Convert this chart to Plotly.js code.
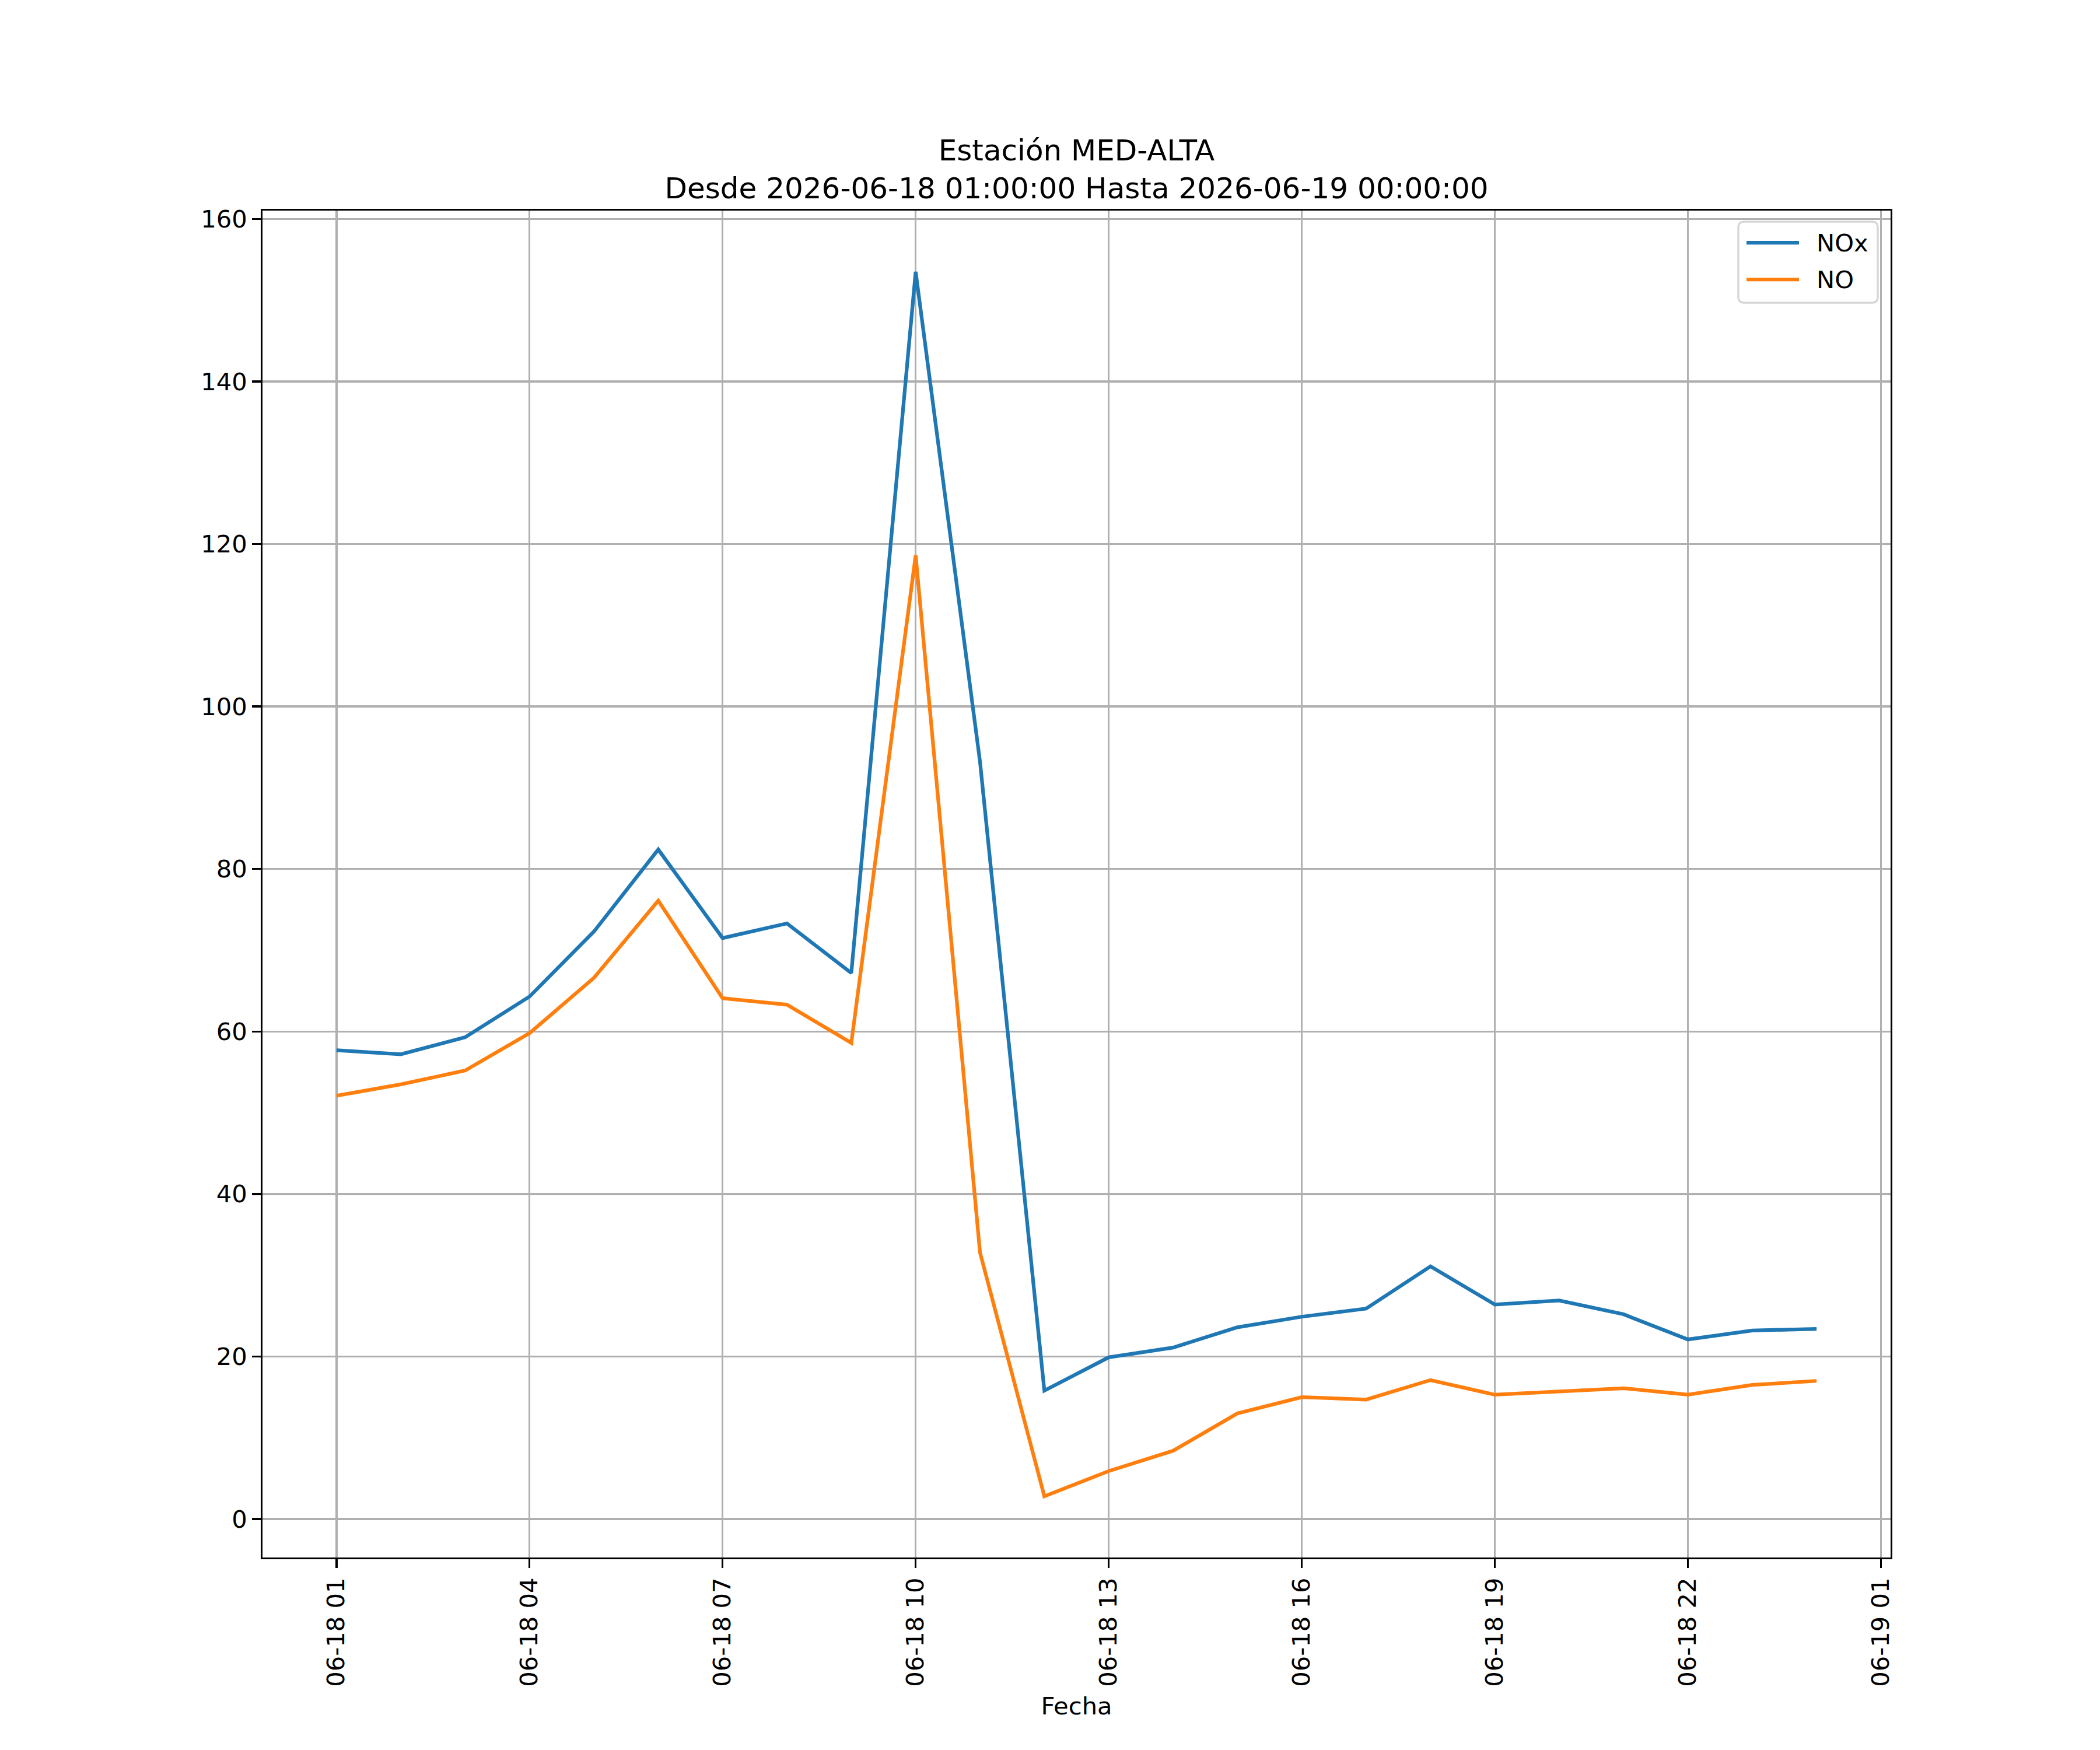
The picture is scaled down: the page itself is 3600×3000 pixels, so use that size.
<!DOCTYPE html>
<html>
<head>
<meta charset="utf-8">
<script src="https://cdn.plot.ly/plotly-3.0.1.min.js"></script>
<style>
    html, body { margin: 0; padding: 0; background: #ffffff; }
    #chart { width: 3600px; height: 3000px; }
</style>
</head>
<body>
<div id="chart"></div>
<script>
// Hourly readings, 2026-06-18 01:00 .. 2026-06-19 00:00
const times = [
    "2026-06-18 01:00", "2026-06-18 02:00", "2026-06-18 03:00", "2026-06-18 04:00",
    "2026-06-18 05:00", "2026-06-18 06:00", "2026-06-18 07:00", "2026-06-18 08:00",
    "2026-06-18 09:00", "2026-06-18 10:00", "2026-06-18 11:00", "2026-06-18 12:00",
    "2026-06-18 13:00", "2026-06-18 14:00", "2026-06-18 15:00", "2026-06-18 16:00",
    "2026-06-18 17:00", "2026-06-18 18:00", "2026-06-18 19:00", "2026-06-18 20:00",
    "2026-06-18 21:00", "2026-06-18 22:00", "2026-06-18 23:00", "2026-06-19 00:00",
];
const nox = [
    57.7, 57.2, 59.3, 64.3, 72.3, 82.4, 71.5, 73.3, 67.2, 153.5, 93.2, 15.8,
    19.9, 21.1, 23.6, 24.9, 25.9, 31.1, 26.4, 26.9, 25.2, 22.1, 23.2, 23.4,
];
const no = [
    52.1, 53.5, 55.2, 59.8, 66.6, 76.1, 64.1, 63.3, 58.6, 118.6, 32.8, 2.8,
    5.9, 8.4, 13.0, 15.0, 14.7, 17.1, 15.3, 15.7, 16.1, 15.3, 16.5, 17.0,
];
const seriesNames = ["NOx", "NO"];
const titleLines = [
    "Estación MED-ALTA",
    "Desde 2026-06-18 01:00:00 Hasta 2026-06-19 00:00:00",
];

// matplotlib-ish sizing at 300 dpi
const PT = 300 / 72;
const FONT = "DejaVu Sans, Liberation Sans, sans-serif";
const COLORS = ["#1f77b4", "#ff7f0e"];

// plot area in pixels (matplotlib default subplot params on 3600x3000)
const AX = { l: 450, r: 3241, t: 361, b: 2670 };
const px2x = (px) => (px - AX.l) / (AX.r - AX.l);
const px2y = (py) => (AX.b - py) / (AX.b - AX.t);

const traces = [nox, no].map((ys, i) => ({
    x: times,
    y: ys,
    type: "scatter",
    mode: "lines",
    name: seriesNames[i],
    line: { width: 1.5 * PT, color: COLORS[i] },
}));

// Legend drawn by hand so the frame/handles match matplotlib's look
function roundedRect(x0, y0, x1, y1, r) {
    // pixel box -> paper-space path with rounded corners
    const X = px2x, Y = px2y;
    return [
        `M${X(x0 + r)},${Y(y0)}`,
        `L${X(x1 - r)},${Y(y0)}`,
        `Q${X(x1)},${Y(y0)} ${X(x1)},${Y(y0 + r)}`,
        `L${X(x1)},${Y(y1 - r)}`,
        `Q${X(x1)},${Y(y1)} ${X(x1 - r)},${Y(y1)}`,
        `L${X(x0 + r)},${Y(y1)}`,
        `Q${X(x0)},${Y(y1)} ${X(x0)},${Y(y1 - r)}`,
        `L${X(x0)},${Y(y0 + r)}`,
        `Q${X(x0)},${Y(y0)} ${X(x0 + r)},${Y(y0)}`,
        "Z",
    ].join(" ");
}

const legendRows = [416, 479];
const shapes = [{
    type: "path",
    xref: "paper", yref: "paper",
    path: roundedRect(2980, 380, 3219, 519, 10),
    fillcolor: "rgba(255,255,255,0.8)",
    line: { color: "#d6d6d6", width: 0.8 * PT },
    layer: "above",
}];
const annotations = [];
seriesNames.forEach((name, i) => {
    shapes.push({
        type: "line",
        xref: "paper", yref: "paper",
        x0: px2x(2994), x1: px2x(3084),
        y0: px2y(legendRows[i]), y1: px2y(legendRows[i]),
        line: { color: COLORS[i], width: 1.5 * PT },
        layer: "above",
    });
    annotations.push({
        text: name,
        xref: "paper", yref: "paper",
        x: px2x(3112), y: px2y(legendRows[i]),
        xanchor: "left", yanchor: "middle",
        showarrow: false,
        font: { family: FONT, size: 10 * PT, color: "#000000" },
    });
});

const axisCommon = {
    showline: true,
    mirror: true,
    linecolor: "#000000",
    linewidth: 0.8 * PT,
    showgrid: true,
    gridcolor: "#b0b0b0",
    gridwidth: 0.8 * PT,
    zeroline: false,
    ticks: "outside",
    ticklen: 3.5 * PT,
    tickwidth: 0.8 * PT,
    tickcolor: "#000000",
    ticklabelstandoff: 3.5 * PT,
    tickfont: { family: FONT, size: 10 * PT, color: "#000000" },
};

const layout = {
    width: 3600,
    height: 3000,
    paper_bgcolor: "#ffffff",
    plot_bgcolor: "#ffffff",
    margin: { l: AX.l, r: 3600 - AX.r, t: AX.t, b: 3000 - AX.b },
    font: { family: FONT, color: "#000000", size: 10 * PT },
    title: {
        text: titleLines.join("<br>"),
        font: { family: FONT, size: 12 * PT, color: "#000000" },
        xref: "paper", x: 0.5, xanchor: "center",
        yref: "container", y: 1 - 275 / 3000, yanchor: "bottom",
    },
    xaxis: Object.assign({}, axisCommon, {
        type: "date",
        range: ["2026-06-17 23:51:00", "2026-06-19 01:09:00"],
        tick0: "2026-06-18 01:00",
        dtick: 3 * 3600 * 1000,
        tickformat: "%m-%d %H",
        tickangle: -90,
        title: {
            text: "Fecha",
            font: { family: FONT, size: 10 * PT, color: "#000000" },
            standoff: 20,
        },
    }),
    yaxis: Object.assign({}, axisCommon, {
        range: [-4.735, 161.035],
        tick0: 0,
        dtick: 20,
    }),
    showlegend: false,
    shapes: shapes,
    annotations: annotations,
};

Plotly.newPlot("chart", traces, layout, { staticPlot: true });
</script>
</body>
</html>
